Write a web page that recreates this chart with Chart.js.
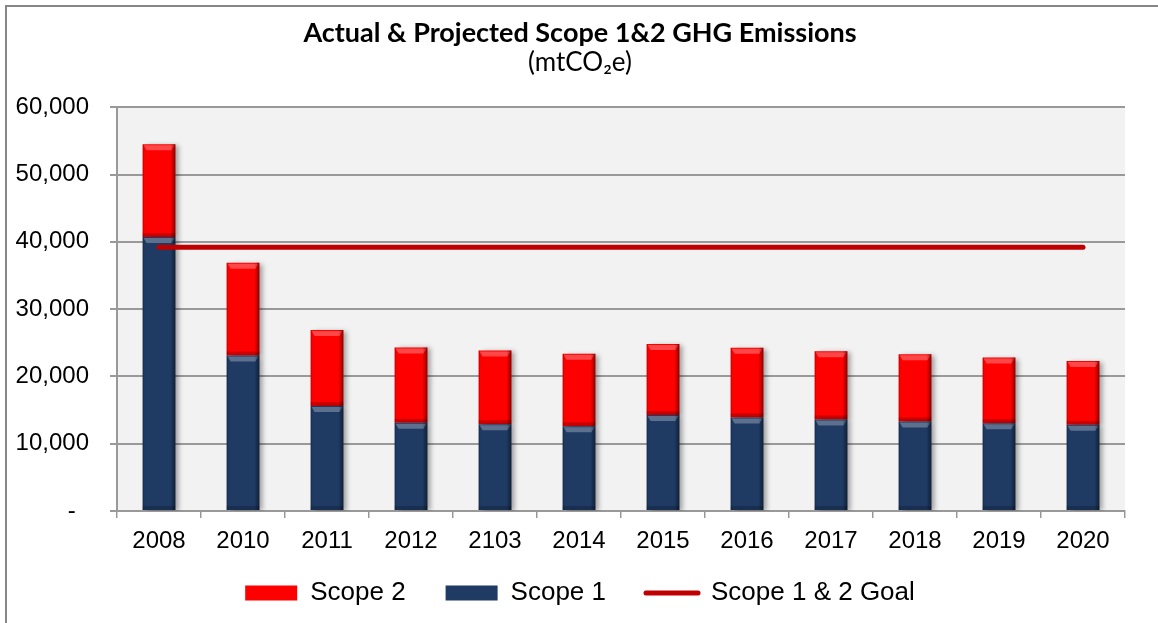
<!DOCTYPE html>
<html>
<head>
<meta charset="utf-8">
<script src="https://cdn.jsdelivr.net/npm/chart.js@4"></script>
<style>
  html, body { margin: 0; padding: 0; background: #fff; }
  #wrap { width: 1158px; height: 623px; position: relative; }
</style>
</head>
<body>
<div id="wrap"><canvas id="ghgChart"></canvas></div>
<script>
const years = ["2008", "2010", "2011", "2012", "2103", "2014", "2015", "2016", "2017", "2018", "2019", "2020"];
const scope1 = [40700, 23100, 15600, 13100, 12900, 12600, 14250, 13900, 13600, 13300, 13050, 12800];
const scope2 = [13800, 13800, 11300, 11200, 10950, 10750, 10550, 10350, 10150, 10000, 9750, 9500];
const goal = [39200, 39200, 39200, 39200, 39200, 39200, 39200, 39200, 39200, 39200, 39200, 39200];

const NAVY = "#1F3A63";
const RED = "#FF0000";
const GOAL_RED = "#C00000";
const GRID = "#999999";
const AXIS_FONT = "'Liberation Sans', Arial, sans-serif";

/* ---------- Plugins ---------- */

// grey plot background + outer chart frame
const backdrop = {
  id: "backdrop",
  beforeDraw(chart) {
    const { ctx, chartArea: a } = chart;
    ctx.save();
    ctx.fillStyle = "#F2F2F2";
    ctx.fillRect(a.left, a.top, a.right - a.left, a.bottom - a.top);
    ctx.strokeStyle = "#868686";
    ctx.lineWidth = 2;
    ctx.beginPath();
    ctx.moveTo(6, chart.height + 2);
    ctx.lineTo(6, 6);
    ctx.lineTo(chart.width + 2, 6);
    ctx.stroke();
    ctx.restore();
  }
};

// the x labels hang below a short axis box, and the title/legend sit a bit right of the padded centre
const nudge = {
  id: "nudge",
  afterLayout(chart) {
    chart.scales.x.bottom = chart.height;
    chart.boxes.filter(b => b.fullSize).forEach(b => {
      b.left += 14;
      b.right += 14;
    });
  }
};

// drop shadow under bars, then a bevel look on top of them
const bevel = {
  id: "bevel",
  beforeDatasetDraw(chart, args) {
    if (args.meta.type !== "bar") return;
    const ctx = chart.ctx;
    ctx.save();
    ctx.shadowColor = "rgba(0,0,0,0.35)";
    ctx.shadowOffsetX = 4;
    ctx.shadowOffsetY = 1;
    ctx.shadowBlur = 5;
  },
  afterDatasetDraw(chart, args) {
    if (args.meta.type !== "bar") return;
    const ctx = chart.ctx;
    ctx.restore();
    ctx.save();
    args.meta.data.forEach(el => {
      const { x, y, base, width } = el.getProps(["x", "y", "base", "width"], true);
      const l = x - width / 2, r = x + width / 2;
      const h = base - y;
      if (h < 12) return;
      // top highlight
      ctx.fillStyle = "rgba(255,255,255,0.28)";
      ctx.beginPath();
      ctx.moveTo(l + 1, y + 1);
      ctx.lineTo(r - 1, y + 1);
      ctx.lineTo(r - 4, y + 6);
      ctx.lineTo(l + 4, y + 6);
      ctx.closePath();
      ctx.fill();
      // darker right edge
      const g = ctx.createLinearGradient(r - 5, 0, r, 0);
      g.addColorStop(0, "rgba(0,0,0,0)");
      g.addColorStop(1, "rgba(0,0,0,0.45)");
      ctx.fillStyle = g;
      ctx.fillRect(r - 5, y, 5, h);
      // faint left edge
      ctx.fillStyle = "rgba(0,0,0,0.15)";
      ctx.fillRect(l, y, 1.5, h);
      // bottom shade
      ctx.fillStyle = "rgba(0,0,0,0.18)";
      ctx.fillRect(l, base - 4, width, 4);
    });
    ctx.restore();
  }
};

/* ---------- Chart ---------- */

const legendRank = { 1: 0, 0: 1, 2: 2 };

new Chart(document.getElementById("ghgChart"), {
  data: {
    labels: years,
    datasets: [
      {
        type: "bar",
        label: "Scope 1",
        data: scope1,
        backgroundColor: NAVY,
        borderWidth: 0,
        categoryPercentage: 1,
        barPercentage: 0.39,
        stack: "s",
        order: 1
      },
      {
        type: "bar",
        label: "Scope 2",
        data: scope2,
        backgroundColor: RED,
        borderWidth: 0,
        categoryPercentage: 1,
        barPercentage: 0.39,
        stack: "s",
        order: 1
      },
      {
        type: "line",
        label: "Scope 1 & 2 Goal",
        data: goal,
        borderColor: GOAL_RED,
        backgroundColor: GOAL_RED,
        borderWidth: 5,
        borderCapStyle: "round",
        pointRadius: 0,
        stack: "goal",
        order: 0
      }
    ]
  },
  options: {
    responsive: true,
    maintainAspectRatio: false,
    animation: false,
    layout: { padding: { left: 7, right: 33, top: 0, bottom: 7 } },
    plugins: {
      tooltip: { enabled: false },
      title: {
        display: true,
        text: "Actual & Projected Scope 1&2 GHG Emissions",
        color: "#000",
        font: { family: "Lato, 'Open Sans', sans-serif", size: 27, weight: "bold", lineHeight: 1 },
        padding: { top: 20, bottom: 0 }
      },
      subtitle: {
        display: true,
        text: "(mtCO₂e)",
        color: "#000",
        font: { family: "Lato, 'DejaVu Sans', sans-serif", size: 26, lineHeight: 1.2 },
        padding: { top: 0, bottom: 29 }
      },
      legend: {
        position: "bottom",
        labels: {
          color: "#000",
          font: { family: AXIS_FONT, size: 26 },
          usePointStyle: true,
          pointStyleWidth: 52,
          boxHeight: 15,
          padding: 40,
          sort: (a, b) => legendRank[a.datasetIndex] - legendRank[b.datasetIndex],
          generateLabels(chart) {
            const items = Chart.defaults.plugins.legend.labels.generateLabels(chart);
            items.forEach(it => {
              if (it.datasetIndex === 2) {
                it.pointStyle = "line";
                it.lineWidth = 5;
                it.strokeStyle = GOAL_RED;
                it.lineCap = "round";
              } else {
                it.pointStyle = "rect";
                it.lineWidth = 0;
              }
            });
            return items;
          }
        }
      }
    },
    scales: {
      x: {
        stacked: true,
        offset: true,
        grid: { offset: true, drawOnChartArea: false, drawTicks: true, tickLength: 7, color: GRID, lineWidth: 1.5 },
        border: { color: GRID, width: 2 },
        ticks: { color: "#000", font: { family: AXIS_FONT, size: 24 }, padding: 9, maxRotation: 0, autoSkip: false },
        afterFit(scale) { scale.height = 29; }
      },
      y: {
        stacked: true,
        min: 0,
        max: 60000,
        grid: { color: GRID, lineWidth: 2, tickLength: 7 },
        border: { color: GRID, width: 2 },
        ticks: {
          stepSize: 10000,
          color: "#000",
          font: { family: AXIS_FONT, size: 24 },
          padding: 21,
          callback: v => v === 0 ? "-  " : v.toLocaleString("en-US")
        },
        afterFit(scale) { scale.width = 110; }
      }
    }
  },
  plugins: [backdrop, nudge, bevel]
});
</script>
</body>
</html>
